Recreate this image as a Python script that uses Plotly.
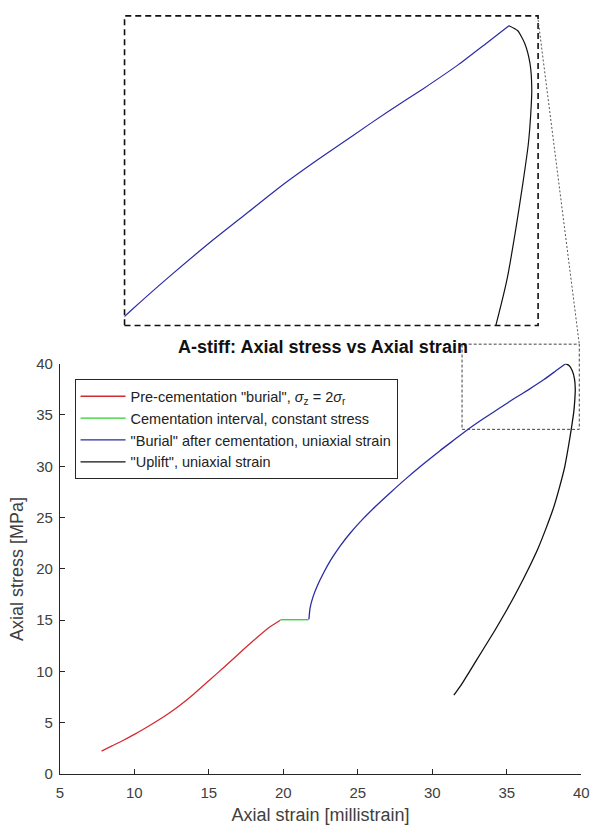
import plotly.graph_objects as go

# ---------------- data ----------------
red_x = [7.8, 8.5, 9.3, 10.1, 11.0, 12.0, 13.0, 14.0, 15.0, 16.0, 17.0, 18.0, 19.0, 19.8]
red_y = [2.25, 2.75, 3.33, 3.95, 4.72, 5.62, 6.65, 7.82, 9.1, 10.4, 11.72, 13.02, 14.25, 15.0]

green_x = [19.8, 21.7]
green_y = [15.05, 15.05]

blue_x = [21.72, 21.8, 22.0, 22.3, 22.7, 23.2, 23.8, 24.5, 25.3, 26.2, 27.2, 28.2, 29.3,
          30.5, 31.5, 32.5, 33.5, 34.5, 35.5, 36.5, 37.5, 38.3, 38.95]
blue_y = [15.1, 16.2, 17.3, 18.4, 19.6, 20.9, 22.2, 23.5, 24.8, 26.1, 27.45, 28.75, 30.1,
          31.5, 32.6, 33.7, 34.7, 35.65, 36.6, 37.5, 38.45, 39.3, 40.0]

black_x = [38.95, 39.2, 39.4, 39.55, 39.6, 39.57, 39.5, 39.35, 39.15, 38.9, 38.55, 38.15,
           37.65, 37.1, 36.45, 35.75, 35.0, 34.2, 33.35, 32.5, 31.9, 31.45]
black_y = [40.0, 39.8, 39.3, 38.5, 37.5, 36.5, 35.3, 33.8, 32.0, 30.0, 28.0, 26.0,
           24.0, 22.0, 20.0, 18.0, 16.0, 14.0, 12.0, 10.0, 8.6, 7.7]

x_ticks = [5, 10, 15, 20, 25, 30, 35, 40]
y_ticks = [0, 5, 10, 15, 20, 25, 30, 35, 40]

series_names = [
    'Pre-cementation "burial", <i>σ</i><sub>z</sub> = 2<i>σ</i><sub>r</sub>',
    'Cementation interval, constant stress',
    '"Burial" after cementation, uniaxial strain',
    '"Uplift", uniaxial strain',
]
series_colors = ['#d42a32', '#2ccf2c', '#2b2ba6', '#111111']

main_xrange = [5, 40]
main_yrange = [0, 40]
inset_xrange = [28.0, 39.78]
inset_yrange = [28.14, 40.39]
zoom_box_x = [32.0, 39.87]
zoom_box_y = [33.6, 41.9]

# ---------------- layout geometry ----------------
W, H = 600, 839
mx = [57 / W, 589 / W]
my = [1 - 781 / H, 1 - 362 / H]
ix = [123 / W, 545 / W]
iy = [1 - 323 / H, 1 - 7 / H]


def px(v):
    return mx[0] + (v - main_xrange[0]) / (main_xrange[1] - main_xrange[0]) * (mx[1] - mx[0])


def py(v):
    return my[0] + (v - main_yrange[0]) / (main_yrange[1] - main_yrange[0]) * (my[1] - my[0])


FONT = "Liberation Sans, Arial, Helvetica, sans-serif"

fig = go.Figure()

data = [(red_x, red_y), (green_x, green_y), (blue_x, blue_y), (black_x, black_y)]
for (xs, ys), name, col in zip(data, series_names, series_colors):
    fig.add_trace(go.Scatter(x=xs, y=ys, mode="lines", name=name,
                             line=dict(color=col, width=1.3, shape="spline", smoothing=0.6),
                             xaxis="x", yaxis="y"))
# inset (magnified) view
for (xs, ys), col in zip(data[2:], series_colors[2:]):
    fig.add_trace(go.Scatter(x=xs, y=ys, mode="lines", showlegend=False,
                             line=dict(color=col, width=1.2, shape="spline", smoothing=0.6),
                             xaxis="x2", yaxis="y2", hoverinfo="skip"))

axis_common = dict(showgrid=False, zeroline=False, showline=True, linecolor="#262626",
                   linewidth=1, ticks="inside", ticklen=5, tickcolor="#262626",
                   tickfont=dict(family=FONT, size=15, color="#404040"), mirror=False)

fig.update_layout(
    width=W, height=H,
    margin=dict(l=0, r=0, t=0, b=0),
    paper_bgcolor="white", plot_bgcolor="white",
    font=dict(family=FONT, color="#262626"),
    xaxis=dict(domain=mx, range=main_xrange, tickvals=x_ticks, anchor="y",
               title=dict(text="Axial strain [millistrain]", standoff=8,
                          font=dict(size=18, color="#404040")),
               ticklabelstandoff=5, **axis_common),
    yaxis=dict(domain=my, range=main_yrange, tickvals=y_ticks, anchor="x",
               title=dict(text="Axial stress [MPa]", standoff=7,
                          font=dict(size=18, color="#404040")),
               ticklabelstandoff=3, **axis_common),
    xaxis2=dict(domain=ix, range=inset_xrange, visible=False, anchor="y2"),
    yaxis2=dict(domain=iy, range=inset_yrange, visible=False, anchor="x2"),
    title=dict(text="<b>A-stiff: Axial stress vs Axial strain</b>", x=(mx[0] + mx[1]) / 2,
               xanchor="center", y=1 - 347 / H, yanchor="middle",
               font=dict(family=FONT, size=18, color="#111111")),
    legend=dict(x=72 / W, y=1 - 378 / H, xanchor="left", yanchor="top",
                bgcolor="white", bordercolor="#262626", borderwidth=1,
                font=dict(family=FONT, size=14.5, color="#222222"),
                itemwidth=45, tracegroupgap=0),
    showlegend=True,
)

shapes = []
# inset frame
shapes.append(dict(type="rect", xref="paper", yref="paper", x0=ix[0], x1=ix[1], y0=iy[0], y1=iy[1],
                   line=dict(color="#111111", width=1.6, dash="6px,4px")))
# zoom box on main axes
bx0, bx1 = px(zoom_box_x[0]), px(zoom_box_x[1])
by0, by1 = py(zoom_box_y[0]), py(zoom_box_y[1])
shapes.append(dict(type="rect", xref="paper", yref="paper", x0=bx0, x1=bx1, y0=by0, y1=by1,
                   line=dict(color="#444444", width=1, dash="3px,2px")))
# connector from inset corner to zoom box corner
shapes.append(dict(type="line", xref="paper", yref="paper", x0=ix[1], y0=iy[1] - 4 / H,
                   x1=bx1, y1=by1, line=dict(color="#555555", width=1, dash="2px,2px")))
fig.update_layout(shapes=shapes)

fig.write_html("out.html")
